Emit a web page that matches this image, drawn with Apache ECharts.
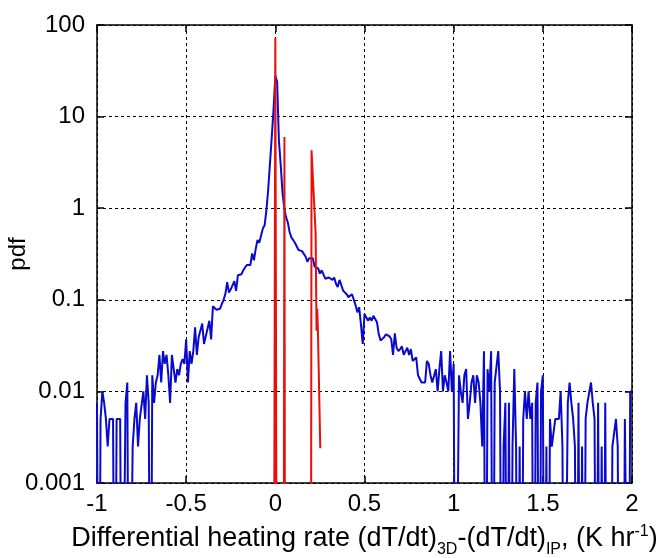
<!DOCTYPE html>
<html>
<head>
<meta charset="utf-8">
<script src="https://cdn.jsdelivr.net/npm/echarts@6/dist/echarts.min.js"></script>
<style>
  html, body { margin: 0; padding: 0; background: #fff; }
  #chart { width: 661px; height: 558px; }
</style>
</head>
<body>
<div id="chart"></div>
<script>
// histogram bins: x from -1 to 2, step 0.01
const binStart = -1;
const binStep = 0.01;

// blue curve (pdf of 3D - IP differences), 0 = empty bin
const blueY = [
  // -1.00 .. -0.51
  0.0075, 0, 0.005, 0.01, 0.0075, 0.005, 0.0025, 0.005, 0.005, 0.005,
  0, 0.005, 0.005, 0.005, 0, 0, 0.0075, 0.0125, 0, 0,
  0.0025, 0.005, 0.0075, 0.0025, 0.005, 0.005, 0.01, 0.005, 0.015, 0.0075,
  0, 0.015, 0.0075, 0.0125, 0.015, 0.025, 0.0125, 0.0275, 0.02, 0.025,
  0.015, 0.0075, 0.025, 0.0175, 0.0125, 0.0175, 0.015, 0.02, 0.0225, 0.02,
  // -0.50 .. -0.01
  0.037, 0.0125, 0.0275, 0.02, 0.0275, 0.05, 0.025, 0.039, 0.04, 0.055,
  0.033, 0.04, 0.04, 0.059, 0.037, 0.085, 0.085, 0.078, 0.076, 0.08,
  0.09, 0.1, 0.116, 0.156, 0.12, 0.13, 0.125, 0.16, 0.125, 0.185,
  0.19, 0.19, 0.21, 0.22, 0.24, 0.24, 0.24, 0.32, 0.27, 0.36,
  0.45, 0.42, 0.43, 0.6, 0.65, 0.95, 1.6, 3.1, 6, 12,
  // 0.00 .. 0.49
  28, 24, 5.5, 3, 1.5, 1.0, 0.8, 0.7, 0.55, 0.48,
  0.45, 0.42, 0.41, 0.35, 0.36, 0.34, 0.33, 0.295, 0.26, 0.285,
  0.29, 0.285, 0.23, 0.24, 0.22, 0.193, 0.21, 0.22, 0.17, 0.175,
  0.175, 0.17, 0.165, 0.175, 0.15, 0.138, 0.165, 0.145, 0.126, 0.122,
  0.115, 0.107, 0.103, 0.115, 0.1, 0.087, 0.073, 0.083, 0.054, 0.033,
  // 0.50 .. 0.99
  0.07, 0.07, 0.059, 0.064, 0.059, 0.067, 0.07, 0.057, 0.042, 0.036,
  0.037, 0.039, 0.042, 0.042, 0.04, 0.037, 0.025, 0.043, 0.03, 0.0275,
  0.029, 0.031, 0.025, 0.0275, 0.03, 0.025, 0.029, 0.0215, 0.021, 0.0235,
  0.015, 0.015, 0.0125, 0.0125, 0.0125, 0.0215, 0.02, 0.015, 0.0125, 0.0125,
  0.0175, 0.01, 0.0175, 0.0275, 0.01, 0.015, 0.0125, 0.01, 0.0275, 0.01,
  // 1.00 .. 1.50
  0.02, 0, 0, 0.015, 0.01, 0.0075, 0.015, 0.0175, 0.005, 0.0075,
  0.0125, 0.015, 0.0075, 0.015, 0.0125, 0.0075, 0.0025, 0.0275, 0, 0.0175,
  0.01, 0.0275, 0, 0.0125, 0.0125, 0.0275, 0.01, 0, 0.0025, 0.0075,
  0, 0.0075, 0, 0.0025, 0.0175, 0.0025, 0, 0.0025, 0, 0.005,
  0.01, 0.005, 0.01, 0.005, 0.0075, 0, 0.0075, 0.0125, 0, 0.01,
  0.015,
  // 1.51 .. 2.00
  0, 0.0025, 0, 0.005, 0.0025, 0.0025, 0.005, 0.005, 0.005, 0.01,
  0.0025, 0, 0, 0.0075, 0.0125, 0.0075, 0.005, 0.0025, 0, 0.0075,
  0, 0.0025, 0, 0.005, 0.0075, 0.0075, 0.0125, 0.0075, 0.005, 0,
  0.0075, 0, 0.0025, 0, 0.0075, 0, 0, 0, 0.0025, 0.0025,
  0.005, 0.0025, 0, 0, 0, 0.005, 0.005, 0, 0.01, 0.01
];

// red curve: a few narrow spikes
const redX = [-0.009, 0.0, 0.009, 0.046, 0.051, 0.055, 0.199, 0.203, 0.226, 0.231, 0.235, 0.239, 0.252];
const redY = [0, 72, 0, 0, 6, 0, 0, 4.3, 0.53, 0.046, 0.08, 0.045, 0.0024];

const xTicks = [-1, -0.5, 0, 0.5, 1, 1.5, 2];
const yTicks = [0.001, 0.01, 0.1, 1, 10, 100];

// empty bins go far below the axis so the line drops off the bottom
const FLOOR = 1e-6;
const blueData = blueY.map((v, i) => [+(binStart + i * binStep).toFixed(2), v > 0 ? v : FLOOR]);
const redData = redX.map((x, i) => [x, redY[i] > 0 ? redY[i] : FLOOR]);

const FONT = 'Liberation Sans';
const dotted = { show: true, lineStyle: { color: '#000', type: [3, 3], width: 1 } };
const frame = { show: true, onZero: false, lineStyle: { color: '#000', width: 1.5 } };
const tickIn = { show: true, inside: true, length: 7, lineStyle: { color: '#000', width: 1.5 } };

const chart = echarts.init(document.getElementById('chart'), null, { renderer: 'canvas' });
chart.setOption({
  animation: false,
  backgroundColor: '#fff',
  grid: { left: 97, right: 29, top: 25, bottom: 75, containLabel: false, outerBoundsMode: 'none' },
  xAxis: [{
    type: 'value', min: -1, max: 2, interval: 0.5,
    axisLine: frame, axisTick: tickIn, splitLine: dotted,
    axisLabel: {
      color: '#000', fontFamily: FONT, fontSize: 24, margin: 9,
      formatter: v => xTicks.indexOf(+v) >= 0 ? String(+v) : ''
    },
    nameLocation: 'middle', nameGap: 37, nameMoveOverlap: false,
    name: '{a|Differential heating rate (dT/dt)}{sub|3D}{a|-(dT/dt)}{sub|IP}{a|, (K hr}{sup|-1}{a|)}',
    nameTextStyle: {
      color: '#000', fontFamily: FONT, fontSize: 27,
      rich: {
        a: { fontFamily: FONT, fontSize: 27, color: '#000', lineHeight: 30 },
        sub: { fontFamily: FONT, fontSize: 16, color: '#000', padding: [22, 0, 0, 0] },
        sup: { fontFamily: FONT, fontSize: 16, color: '#000', padding: [0, 0, 14, 0] }
      }
    }
  }, {
    type: 'value', position: 'top', min: -1, max: 2, interval: 0.5,
    axisLine: frame, axisTick: tickIn, axisLabel: { show: false }, splitLine: { show: false }
  }],
  yAxis: [{
    type: 'log', logBase: 10, min: 0.001, max: 100,
    axisLine: frame, axisTick: tickIn, splitLine: dotted,
    axisLabel: {
      color: '#000', fontFamily: FONT, fontSize: 24, margin: 12,
      formatter: v => {
        const t = yTicks.find(k => Math.abs(Math.log10(k) - Math.log10(v)) < 1e-6);
        return t === undefined ? '' : String(t);
      }
    },
    name: 'pdf', nameLocation: 'middle', nameGap: 67, nameRotate: 90, nameMoveOverlap: false,
    nameTextStyle: { color: '#000', fontFamily: FONT, fontSize: 24 }
  }, {
    type: 'log', logBase: 10, min: 0.001, max: 100, position: 'right',
    axisLine: frame, axisTick: tickIn, axisLabel: { show: false }, splitLine: { show: false }
  }],
  series: [{
    name: 'blue', type: 'line', data: blueData, xAxisIndex: 0, yAxisIndex: 0,
    showSymbol: false, clip: true,
    lineStyle: { color: '#0a0acd', width: 2 }
  }, {
    name: 'red', type: 'line', data: redData, xAxisIndex: 0, yAxisIndex: 0,
    showSymbol: false, clip: true,
    lineStyle: { color: '#e8100c', width: 2 }
  }]
});
</script>
</body>
</html>
